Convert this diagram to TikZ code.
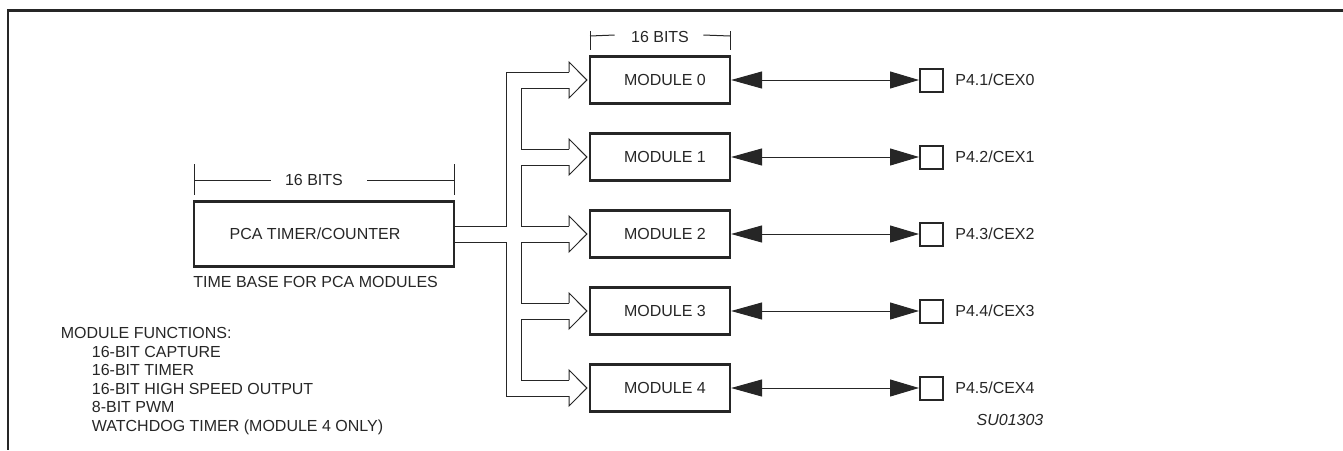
\documentclass[tikz,border=0pt]{standalone}
\usepackage{fontspec}
\setmainfont{Liberation Sans}
\usetikzlibrary{arrows.meta}
\tikzset{
  txt/.style={inner sep=0pt,font=\fontsize{8}{9.3}\selectfont},
  box/.style={draw,line width=1.1pt,minimum width=70pt,minimum height=23.5pt},
  pin/.style={draw,line width=1pt,minimum size=11.5pt},
  bus/.style={line width=0.5pt},
  dbl/.style={line width=0.5pt,{Triangle[length=15.5pt,width=8.5pt]}-{Triangle[length=14.5pt,width=8.5pt]}}
}
\begin{document}
\begin{tikzpicture}[x=0.5pt,y=-0.5pt,color=black!85,every node/.style={txt}]
\useasboundingbox (0,0) rectangle (1343,450);
% frame
\draw[line width=1.15pt] (1343,10.5) -- (8.3,10.5) -- (8.3,450);
% timer/counter
\node[box,minimum width=130pt,minimum height=32.5pt] (pca) at (324,234) {PCA TIMER/COUNTER\hspace*{9pt}};
\node[anchor=west] (tbase) at (193,282) {TIME BASE FOR PCA MODULES};
\coordinate (ta) at (194,164);
\coordinate (tb) at (454,164);
\node (tbits) at (314,180) {16 BITS};
\draw[bus] (ta) -- +(0,31) (tb) -- +(0,31);
\draw[bus] (ta |- tbits) -- ([xshift=-7pt]tbits.west);
\draw[bus] ([xshift=12pt]tbits.east) -- (tb |- tbits);
% 16 bits over the modules
\coordinate (ma) at (590,31);
\coordinate (mb) at (730,31);
\node (mbits) at (660,37) {16 BITS};
\draw[bus] (ma) -- +(0,19) (mb) -- +(0,19);
\draw[bus] ([yshift=-2.5pt]ma) -- ([xshift=-8pt,yshift=1pt]mbits.west);
\draw[bus] ([xshift=7pt,yshift=1pt]mbits.east) -- ([yshift=-2.5pt]mb);
% modules and pins
\foreach \i in {0,...,4}{
  \pgfmathsetmacro\c{80+77*\i}
  \pgfmathtruncatemacro\j{\i+1}
  \node[box] (m\i) at (660,\c) {\hspace*{5pt}MODULE \i};
  \node[pin] (p\i) at (931.5,\c) {};
  \node[anchor=west] (l\i) at ([xshift=5.5pt]p\i.east) {P4.\j/CEX\i};
  \draw[dbl] (m\i.east) -- (p\i.west);
  \draw[bus] (569,\c-8) -- (569,\c-18) -- ([xshift=-1pt]m\i.west) -- (569,\c+18) -- (569,\c+8);
}
% hollow bus
\draw[bus] ([yshift=4pt]pca.east) -- (506,226) -- (506,72) -- (569,72);
\draw[bus] ([yshift=-4pt]pca.east) -- (506,242) -- (506,396) -- (569,396);
\foreach \i in {0,...,3}{
  \pgfmathsetmacro\a{88+77*\i}
  \pgfmathsetmacro\b{149+77*\i}
  \draw[bus] (569,\a) -- (521,\a) -- (521,\b) -- (569,\b);
}
% notes
\node[anchor=north west,align=left] (funcs) at (60.5,327) {MODULE FUNCTIONS:\\
  \hspace*{15.5pt}16-BIT CAPTURE\\
  \hspace*{15.5pt}16-BIT TIMER\\
  \hspace*{15.5pt}16-BIT HIGH SPEED OUTPUT\\
  \hspace*{15.5pt}8-BIT PWM\\
  \hspace*{15.5pt}WATCHDOG TIMER (MODULE 4 ONLY)};
\node (code) at (1010,420) {\itshape SU01303};
\end{tikzpicture}
\end{document}
